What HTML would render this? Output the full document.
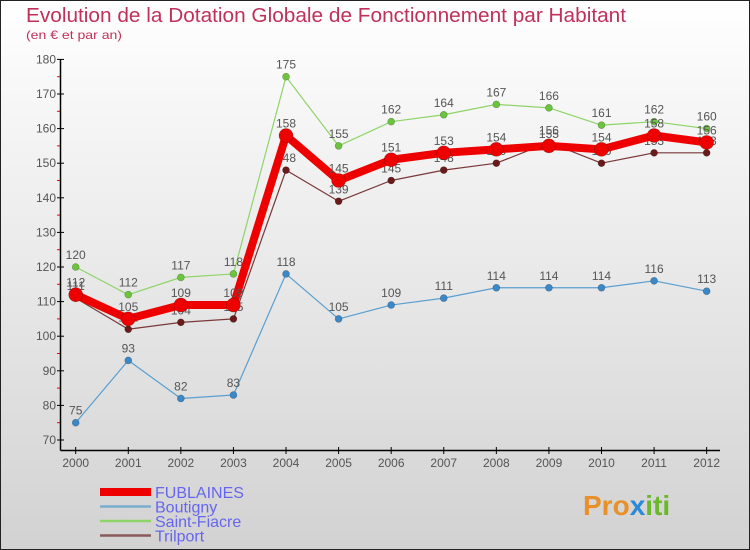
<!DOCTYPE html>
<html><head><meta charset="utf-8"><style>
html,body{margin:0;padding:0}
body{width:750px;height:550px;overflow:hidden;font-family:"Liberation Sans",sans-serif}
svg{display:block}
</style></head><body>
<svg id="chart" width="750" height="550" xmlns="http://www.w3.org/2000/svg">
<defs><linearGradient id="bg" x1="0" y1="0" x2="0" y2="1"><stop offset="0" stop-color="#ffffff"/><stop offset="1" stop-color="#d2d2d2"/></linearGradient></defs>
<rect x="0.5" y="0.5" width="749" height="549" fill="url(#bg)" stroke="#222"/>
<text x="26" y="22" font-size="20" fill="#c0305a" textLength="600" lengthAdjust="spacingAndGlyphs">Evolution de la Dotation Globale de Fonctionnement par Habitant</text>
<text x="26" y="39" font-size="12" fill="#c0305a" textLength="96" lengthAdjust="spacingAndGlyphs">(en € et par an)</text>
<g id="axes"></g>
<g id="series"></g>
<g id="legend"></g>
<text x="583" y="515" font-size="28" font-weight="bold" fill="#e8902a">Pro<tspan fill="#2a8ad8">x</tspan><tspan fill="#6ab82a">iti</tspan></text>
</svg>
<script>
const years=[2000,2001,2002,2003,2004,2005,2006,2007,2008,2009,2010,2011,2012];
const yTicks=[70,80,90,100,110,120,130,140,150,160,170,180];
const fublaines=[112,105,109,109,158,145,151,153,154,155,154,158,156];
const boutigny=[75,93,82,83,118,105,109,111,114,114,114,116,113];
const saintFiacre=[120,112,117,118,175,155,162,164,167,166,161,162,160];
const trilport=[111,102,104,105,148,139,145,148,150,156,150,153,153];
const NS="http://www.w3.org/2000/svg";
const X=i=>75.7+i*52.58;
const Y=v=>440-(v-70)*3.46;
function mk(tag,attrs,parent){const e=document.createElementNS(NS,tag);for(const k in attrs)e.setAttribute(k,attrs[k]);parent.appendChild(e);return e;}
const ax=document.getElementById('axes');
const yl=mk('line',{x1:60.5,y1:Y(180),x2:60.5,y2:450.5,stroke:'#000','stroke-width':1.5},ax);


const xl=mk('line',{x1:60.5,y1:450.5,x2:720,y2:450.5,stroke:'#000','stroke-width':1.5},ax);


yTicks.forEach((v,i)=>{
 mk('line',{x1:57,y1:Y(v),x2:64,y2:Y(v),stroke:'#000'},ax);
 if(i<yTicks.length-1) mk('line',{x1:57,y1:Y(v+5),x2:60,y2:Y(v+5),stroke:'#e00'},ax);
 const t=mk('text',{x:56,y:Y(v)+4,'font-size':12,fill:'#555','text-anchor':'end'},ax);
 t.textContent=v;
 
 
});
years.forEach((yr,i)=>{
 mk('line',{x1:X(i),y1:447,x2:X(i),y2:454,stroke:'#000'},ax);
 const t=mk('text',{x:X(i),y:467,'font-size':12,fill:'#555','text-anchor':'middle'},ax);
 t.textContent=yr;
 
 
});
const S=document.getElementById('series');
const defs=[
 {name:'saint-fiacre',data:saintFiacre,color:'#8fd468',w:1.2,r:3.5,fill:'#6cc43c'},
 {name:'trilport',data:trilport,color:'#7a3838',w:1.2,r:3.5,fill:'#6a1a1a'},
 {name:'boutigny',data:boutigny,color:'#5a9fd0',w:1.2,r:3.5,fill:'#3a88c8'},
 {name:'fublaines',data:fublaines,color:'#ee0000',w:8,r:7,fill:'#ee0000'}
];
defs.forEach(d=>{
 const g=mk('g',{},S);
 
 
 const pl=mk('polyline',{points:d.data.map((v,i)=>X(i)+','+Y(v)).join(' '),fill:'none',stroke:d.color,'stroke-width':d.w,'stroke-linejoin':'round'},g);
 
 
 d.data.forEach((v,i)=>{
  const c=mk('circle',{cx:X(i),cy:Y(v),r:d.r,fill:d.fill,stroke:'rgba(0,0,0,0.3)','stroke-width':0.6},g);
  
  
  const t=mk('text',{x:X(i),y:Y(v)-8,'font-size':12,fill:'#555','text-anchor':'middle'},g);
  t.textContent=v;
  
  
 });
});
const L=document.getElementById('legend');
const leg=[['FUBLAINES','#ee0000',8],['Boutigny','#7aaed0',2.5],['Saint-Fiacre','#8fd468',2.5],['Trilport','#8a5a5a',2.5]];
leg.forEach((l,i)=>{
 const y=492+i*14.5;
 const g=mk('g',{},L);
 
 
 mk('line',{x1:100,y1:y,x2:151,y2:y,stroke:l[1],'stroke-width':l[2]},g);
 const t=mk('text',{x:155,y:y+6,'font-size':16,fill:'#6666ee'},g);
 t.textContent=l[0];
});
</script>
</body></html>
